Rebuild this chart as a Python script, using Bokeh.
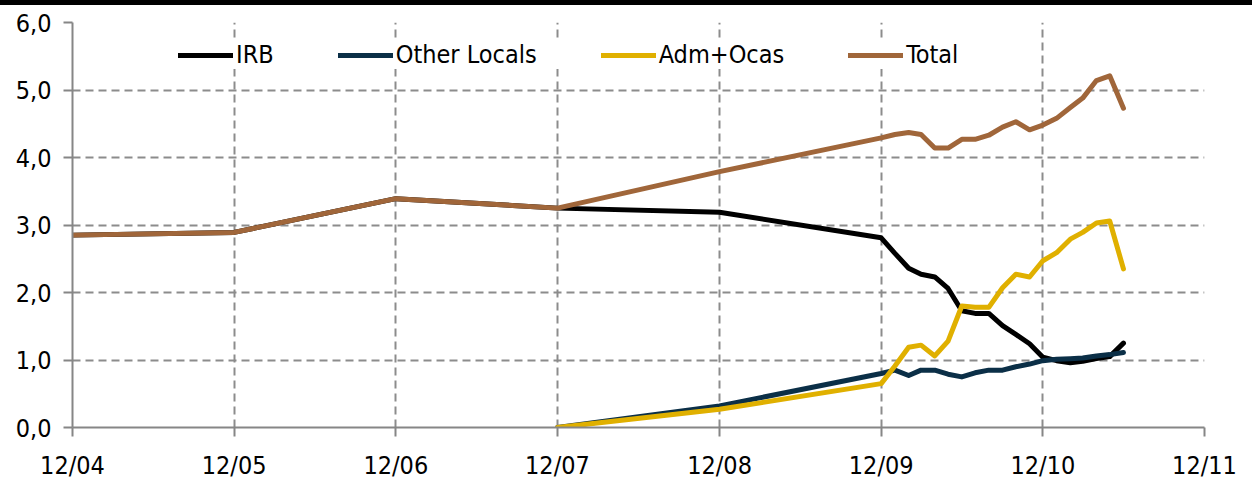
import numpy as np
import pandas as pd
from bokeh.plotting import figure
from bokeh.models import (ColumnDataSource, FixedTicker, CustomJSTickFormatter,
                          DatetimeTickFormatter, Legend, LegendItem, Range1d, Div)
from bokeh.layouts import column
from bokeh.embed import file_html
from bokeh.resources import INLINE

nan = np.nan
dates = ["2004-12-01", "2005-12-01", "2006-12-01", "2007-12-01", "2008-12-01",
         "2009-12-01", "2010-01-01", "2010-02-01", "2010-03-01", "2010-04-01",
         "2010-05-01", "2010-06-01", "2010-07-01", "2010-08-01", "2010-09-01",
         "2010-10-01", "2010-11-01", "2010-12-01", "2011-01-01", "2011-02-01",
         "2011-03-01", "2011-04-01", "2011-05-01", "2011-06-01"]
irb = [2.85, 2.89, 3.39, 3.25, 3.19,
       2.81, 2.58, 2.36, 2.27, 2.23, 2.06, 1.73, 1.69, 1.69, 1.51, 1.38, 1.24,
       1.04, 0.99, 0.96, 0.98, 1.02, 1.05, 1.25]
other_locals = [nan, nan, nan, 0.0, 0.32,
                0.80, 0.85, 0.77, 0.85, 0.85, 0.79, 0.75, 0.81, 0.85, 0.85, 0.90, 0.94,
                0.99, 1.01, 1.02, 1.03, 1.06, 1.08, 1.11]
adm_ocas = [nan, nan, nan, 0.0, 0.27,
            0.65, 0.91, 1.19, 1.22, 1.06, 1.28, 1.80, 1.78, 1.78, 2.07, 2.27, 2.23,
            2.47, 2.59, 2.79, 2.89, 3.03, 3.06, 2.35]
total = [2.85, 2.89, 3.39, 3.25, 3.79,
         4.29, 4.34, 4.37, 4.34, 4.14, 4.14, 4.27, 4.27, 4.33, 4.45, 4.53, 4.41,
         4.48, 4.58, 4.74, 4.88, 5.14, 5.21, 4.73]
series_names = ["IRB", "Other Locals", "Adm+Ocas", "Total"]
tick_dates = ["2004-12-01", "2005-12-01", "2006-12-01", "2007-12-01",
              "2008-12-01", "2009-12-01", "2010-12-01", "2011-12-01"]
y_ticks = [0, 1, 2, 3, 4, 5, 6]

FONT = "DejaVu Sans Condensed"
FS = "25px"

src = ColumnDataSource(dict(x=pd.to_datetime(dates), irb=irb, ol=other_locals,
                            adm=adm_ocas, tot=total))
tick_ms = [pd.Timestamp(d).value / 1e6 for d in tick_dates]

p = figure(width=1252, height=479, x_axis_type="datetime",
           x_range=Range1d(tick_ms[0], tick_ms[-1]), y_range=Range1d(0, 6),
           toolbar_location=None, output_backend="svg",
           min_border_left=72, min_border_right=48, min_border_top=17,
           min_border_bottom=57, outline_line_color=None)

colors = ["#000000", "#0B2F47", "#E0B000", "#A0663A"]
keys = ["irb", "ol", "adm", "tot"]
renderers = []
for k, c in zip(keys, colors):
    r = p.line("x", k, source=src, line_color=c, line_width=5,
               line_join="round", line_cap="round")
    renderers.append(r)

for ax in (p.xaxis[0], p.yaxis[0]):
    ax.axis_line_color = "#868686"
    ax.axis_line_width = 2
    ax.major_tick_line_color = "#868686"
    ax.major_tick_line_width = 2
    ax.major_tick_out = 9
    ax.major_tick_in = 0
    ax.minor_tick_line_color = None
    ax.major_label_text_font = FONT
    ax.major_label_text_font_size = FS
    ax.major_label_text_color = "black"

p.xaxis.ticker = FixedTicker(ticks=tick_ms)
p.xaxis.formatter = DatetimeTickFormatter(years="%m/%y", months="%m/%y",
                                          days="%m/%y", hours="%m/%y")
p.xaxis.major_label_standoff = 14
p.yaxis.ticker = FixedTicker(ticks=y_ticks)
p.yaxis.formatter = CustomJSTickFormatter(code="return tick.toFixed(1).replace('.', ',');")
p.yaxis.major_label_standoff = 12

p.xgrid.ticker = FixedTicker(ticks=tick_ms)
p.ygrid.ticker = FixedTicker(ticks=y_ticks)
for g in (p.xgrid[0], p.ygrid[0]):
    g.grid_line_color = "#8C8C8C"
    g.grid_line_width = 2
    g.grid_line_dash = "8 5"

legend = Legend(items=[LegendItem(label=n, renderers=[r])
                       for n, r in zip(series_names, renderers)],
                orientation="horizontal", location=(106, 358),
                glyph_width=55, glyph_height=24, label_standoff=3, spacing=64,
                padding=6, margin=0, border_line_color=None,
                background_fill_color="white", background_fill_alpha=1.0,
                label_text_font=FONT, label_text_font_size=FS,
                label_text_color="black", label_height=24)
p.add_layout(legend)

bar = Div(text="", width=1252, height=5, margin=(0, 0, 0, 0),
          styles={"background-color": "black", "width": "1252px", "height": "5px"})

layout = column(bar, p, spacing=0)
open("out.html", "w").write(file_html(layout, INLINE))
